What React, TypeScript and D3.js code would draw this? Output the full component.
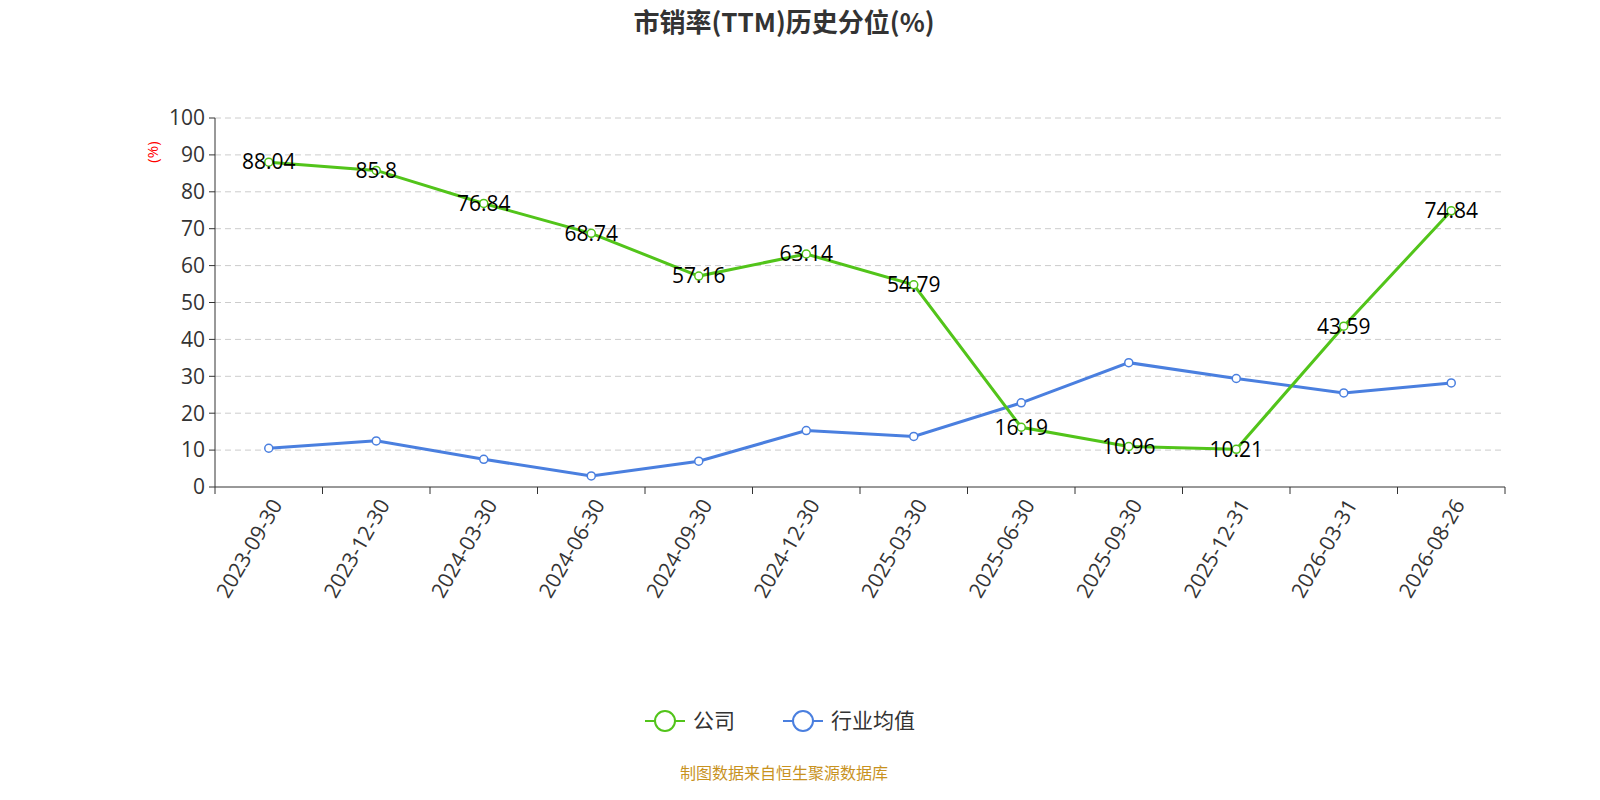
import React, { useRef, useEffect } from 'react';
import * as d3 from 'd3';

const categories = ['2023-09-30', '2023-12-30', '2024-03-30', '2024-06-30', '2024-09-30', '2024-12-30', '2025-03-30', '2025-06-30', '2025-09-30', '2025-12-31', '2026-03-31', '2026-08-26'];
const companyValues = [88.04, 85.8, 76.84, 68.74, 57.16, 63.14, 54.79, 16.19, 10.96, 10.21, 43.59, 74.84];
const industryValues = [10.5, 12.5, 7.5, 3.0, 7.0, 15.3, 13.7, 22.8, 33.7, 29.4, 25.5, 28.2];
const yTicks = [0, 10, 20, 30, 40, 50, 60, 70, 80, 90, 100];

const GREEN = '#52c41a';
const BLUE = '#4a7fdf';
const FONT = '"Open Sans", "Noto Sans CJK SC", sans-serif';

export default function App() {
  const svgRef = useRef<SVGSVGElement | null>(null);

  useEffect(() => {
    const svg = d3.select(svgRef.current);
    svg.selectAll('*').remove();
    svg.style('font-family', FONT);

    const left = 215, right = 1505, top = 118, bottom = 487;
    const x = d3.scaleBand<string>().domain(categories).range([left, right]);
    const y = d3.scaleLinear().domain([0, 100]).range([bottom, top]);
    const cx = (i: number) => x(categories[i])! + x.bandwidth() / 2;

    svg.append('text').attr('x', 784).attr('y', 32).attr('text-anchor', 'middle')
      .style('font-size', '26px').style('font-weight', 'bold').style('fill', '#333')
      .style('font-family', '"Noto Sans CJK SC", sans-serif')
      .text('市销率(TTM)历史分位(%)');

    svg.append('g').selectAll('line').data(yTicks.filter(t => t > 0)).join('line')
      .attr('x1', left).attr('x2', right).attr('y1', d => y(d)).attr('y2', d => y(d))
      .style('stroke', '#ccc').style('stroke-dasharray', '6,4');

    svg.append('line').attr('x1', left).attr('x2', left).attr('y1', top).attr('y2', bottom).style('stroke', '#333');
    const yt = svg.append('g').selectAll('g').data(yTicks).join('g');
    yt.append('line').attr('x1', left - 6).attr('x2', left).attr('y1', d => y(d)).attr('y2', d => y(d)).style('stroke', '#333');
    yt.append('text').attr('x', left - 10).attr('y', d => y(d)).attr('dy', '0.35em').attr('text-anchor', 'end')
      .style('font-size', '21px').style('fill', '#333').text(d => d);
    svg.append('text').attr('transform', 'translate(158,152) rotate(-90)').attr('text-anchor', 'middle')
      .style('font-size', '15px').style('fill', 'red').text('(%)');

    svg.append('line').attr('x1', left).attr('x2', right).attr('y1', bottom).attr('y2', bottom).style('stroke', '#333');
    const ticksX = d3.range(categories.length + 1).map(i => left + i * x.bandwidth());
    svg.append('g').selectAll('line').data(ticksX).join('line')
      .attr('x1', d => d).attr('x2', d => d).attr('y1', bottom).attr('y2', bottom + 7).style('stroke', '#333');
    svg.append('g').selectAll('text').data(categories).join('text')
      .attr('transform', (d, i) => `translate(${cx(i) + 8},${bottom + 14}) rotate(-60)`)
      .attr('text-anchor', 'end').attr('dy', '0.35em')
      .style('font-size', '21px').style('fill', '#333').text(d => d);

    const line = d3.line<number>().x((d, i) => cx(i)).y(d => y(d));
    const drawSeries = (vals: number[], color: string) => {
      svg.append('path').attr('d', line(vals)).style('fill', 'none').style('stroke', color).style('stroke-width', 3);
      svg.append('g').selectAll('circle').data(vals).join('circle')
        .attr('cx', (d, i) => cx(i)).attr('cy', d => y(d)).attr('r', 4)
        .style('fill', '#fff').style('stroke', color).style('stroke-width', 1.5);
    };
    drawSeries(industryValues, BLUE);
    drawSeries(companyValues, GREEN);

    svg.append('g').selectAll('text').data(companyValues).join('text')
      .attr('x', (d, i) => cx(i)).attr('y', d => y(d)).attr('dy', '0.35em').attr('text-anchor', 'middle')
      .style('font-size', '21px').style('fill', '#000').text(d => d);

    const legend = [{ name: '公司', color: GREEN, x: 645 }, { name: '行业均值', color: BLUE, x: 783 }];
    const lg = svg.append('g').selectAll('g').data(legend).join('g');
    lg.append('line').attr('x1', d => d.x).attr('x2', d => d.x + 40).attr('y1', 721).attr('y2', 721)
      .style('stroke', d => d.color).style('stroke-width', 2);
    lg.append('circle').attr('cx', d => d.x + 20).attr('cy', 721).attr('r', 10)
      .style('fill', '#fff').style('stroke', d => d.color).style('stroke-width', 2);
    lg.append('text').attr('x', d => d.x + 48).attr('y', 721).attr('dy', '0.35em')
      .style('font-size', '21px').style('fill', '#333')
      .style('font-family', '"Noto Sans CJK SC", sans-serif').text(d => d.name);

    svg.append('text').attr('x', 784).attr('y', 779).attr('text-anchor', 'middle')
      .style('font-size', '16px').style('fill', '#c8921e')
      .style('font-family', '"Noto Sans CJK SC", sans-serif').text('制图数据来自恒生聚源数据库');
  }, []);

  return <svg ref={svgRef} width={1600} height={800}
    style={{ display: 'block', position: 'absolute', left: 0, top: 0, background: '#fff' }} />;
}
